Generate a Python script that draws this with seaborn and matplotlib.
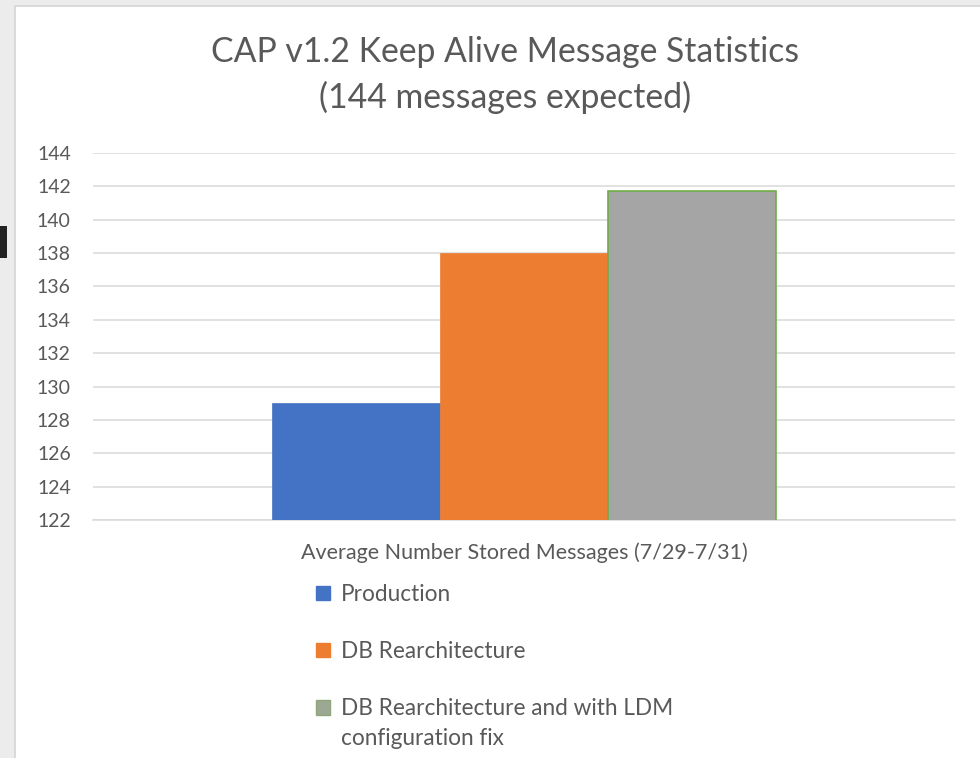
import matplotlib
matplotlib.use("Agg")
import matplotlib.pyplot as plt
import matplotlib.patches as mpatches
from matplotlib.legend_handler import HandlerPatch
import seaborn as sns
import pandas as pd

category = ["Average Number Stored Messages (7/29-7/31)"]
series = ["Production", "DB Rearchitecture", "DB Rearchitecture and with LDM\nconfiguration fix"]
values = [129.0, 138.0, 141.7]
colors = ["#4472C4", "#ED7D31", "#A5A5A5"]
yticks = [122, 124, 126, 128, 130, 132, 134, 136, 138, 140, 142, 144]
title = "CAP v1.2 Keep Alive Message Statistics\n(144 messages expected)"

df = pd.DataFrame({"cat": category * len(series), "series": series, "value": values})

sns.set_theme(style="white")
plt.rcParams["font.family"] = ["Lato", "DejaVu Sans"]

W, H = 980, 758
fig = plt.figure(figsize=(W / 100, H / 100), dpi=100)
fig.patch.set_facecolor("#ECECEC")

# chart frame
frame = mpatches.Rectangle((15 / W, -0.01), 1.0, (H - 6) / H + 0.01, transform=fig.transFigure,
                           facecolor="white", edgecolor="#D4D4D4", linewidth=1.2, zorder=-10)
fig.patches.append(frame)
# small dark artifact on the left edge
fig.patches.append(mpatches.Rectangle((0, (H - 258) / H), 7 / W, 32 / H, transform=fig.transFigure,
                                      facecolor="#222222", edgecolor="none", zorder=-5))

ax = fig.add_axes([93 / W, (H - 520) / H, (955 - 93) / W, (520 - 153) / H])
ax.set_facecolor("none")
ax.set_zorder(2)

sns.barplot(data=df, x="cat", y="value", hue="series", palette=colors, width=0.584,
            ax=ax, legend=False, saturation=1, zorder=3)
for p, c in zip(ax.patches, colors):
    p.set_edgecolor("#70AD47" if c == "#A5A5A5" else c)
    p.set_linewidth(1.2 if c == "#A5A5A5" else 0.5)
    p.set_zorder(3)

ax.set_ylim(122, 144)
ax.set_xlim(-0.5, 0.5)
ax.set_yticks(yticks)
ax.set_yticklabels([str(t) for t in yticks], fontsize=14, color="#595959")
ax.yaxis.grid(True, color="#D9D9D9", linewidth=1.1, zorder=0)
ax.set_axisbelow(True)
for s in ["top", "right", "left"]:
    ax.spines[s].set_visible(False)
ax.spines["bottom"].set_color("#D9D9D9")
ax.spines["bottom"].set_linewidth(1.1)
ax.tick_params(axis="y", length=0, pad=16)
ax.set_xticks([0])
ax.set_xticklabels(category, fontsize=15.5, color="#595959")
ax.tick_params(axis="x", length=0, pad=16)
ax.set_xticks([-0.5, 0.5], minor=True)
ax.tick_params(axis="x", which="minor", length=6, color="#D9D9D9", width=1.1)
ax.set_xlabel("")
ax.set_ylabel("")

fig.text(505 / W, 1 - 75 / H, title, ha="center", va="center", fontsize=24.3,
         color="#595959", linespacing=1.5)


class TopHandler(HandlerPatch):
    def __init__(self, shift=0.0, **kw):
        super().__init__(**kw)
        self.shift = shift

    def create_artists(self, legend, orig_handle, xdescent, ydescent, width, height, fontsize, trans):
        return super().create_artists(legend, orig_handle, xdescent, ydescent - self.shift,
                                      width, height, fontsize, trans)


handles = []
hmap = {}
for lab, c in zip(series, colors):
    ec = "#8FA67A" if c == "#A5A5A5" else c
    fc = "#9CA893" if c == "#A5A5A5" else c
    h = mpatches.Patch(facecolor=fc, edgecolor=ec, label=lab)
    handles.append(h)
    nlines = lab.count("\n")
    hmap[h] = TopHandler(shift=11.5 * nlines)
leg = fig.legend(handles=handles, loc="upper left", bbox_to_anchor=(316 / W, 1 - 584 / H),
                 frameon=False, fontsize=16.3, labelspacing=1.58, handlelength=0.6,
                 handleheight=0.6, handletextpad=0.5, borderaxespad=0, borderpad=0,
                 handler_map=hmap)
for t in leg.get_texts():
    t.set_color("#595959")
    t.set_linespacing(1.54)

fig.savefig("out.png", dpi=100, facecolor=fig.get_facecolor())
